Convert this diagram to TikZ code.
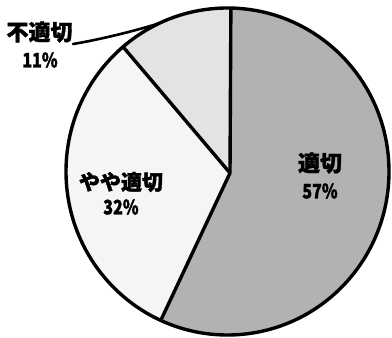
\documentclass[tikz,border=0pt]{standalone}
\usepackage{fontspec}
\usepackage{graphicx}
\newfontfamily\cjk{Noto Sans CJK JP}[BoldFeatures={FakeBold=1.6}]
\begin{document}
\begin{tikzpicture}[x=1pt,y=1pt,
  outline/.style={draw=black, line width=3.4pt, line join=round},
  lbl/.style={font=\cjk\bfseries\fontsize{21}{21}\selectfont, inner sep=0pt, text=black},
  biglbl/.style={lbl, font=\cjk\bfseries\fontsize{22}{22}\selectfont},
  num/.style={font=\cjk\bfseries\fontsize{20}{20}\selectfont, inner sep=0pt, text=black},
  leader/.style={draw=black, line width=2.6pt, line cap=round}]
\useasboundingbox (0,0) rectangle (392,338);
\def\rxx{161.5}
\def\ryy{163.5}
\coordinate (c) at (227.5,166.5);
\coordinate (v) at (230,165);
\path (c) ++(88.8:{\rxx} and {\ryy}) coordinate (ptop);
\path (c) ++(-114.4:{\rxx} and {\ryy}) coordinate (pbot);
\path (c) ++(130.3:{\rxx} and {\ryy}) coordinate (pleft);
\path (c) ++(115:{\rxx} and {\ryy}) coordinate (tip);
% slices
\fill[black!30] (v) -- (ptop) arc[start angle=88.8, end angle=-114.4, x radius=\rxx, y radius=\ryy] -- cycle;
\fill[black!4] (v) -- (pbot) arc[start angle=245.6, end angle=130.3, x radius=\rxx, y radius=\ryy] -- cycle;
\fill[black!11] (v) -- (pleft) arc[start angle=130.3, end angle=88.8, x radius=\rxx, y radius=\ryy] -- cycle;
% outline and dividers
\draw[outline] (c) ellipse[x radius=\rxx, y radius=\ryy];
\draw[outline] (ptop) -- (v) -- (pbot);
\draw[outline] (v) -- (pleft);
% labels
\node[biglbl] (l1) at (39.5,306) {不適切};
\node[num] (n1) at (40,278) {\scalebox{0.8}[1]{11\%}};
\node[lbl] (l2) at (121,156) {やや適切};
\node[num] (n2) at (121,131) {\scalebox{0.8}[1]{32\%}};
\node[biglbl] (l3) at (320,175) {適切};
\node[num] (n3) at (320,147) {\scalebox{0.8}[1]{57\%}};
% leader
\coordinate (lead) at (73,294);
\draw[leader] (lead) .. controls (92,297) and (128,305) .. (tip);
\end{tikzpicture}
\end{document}
